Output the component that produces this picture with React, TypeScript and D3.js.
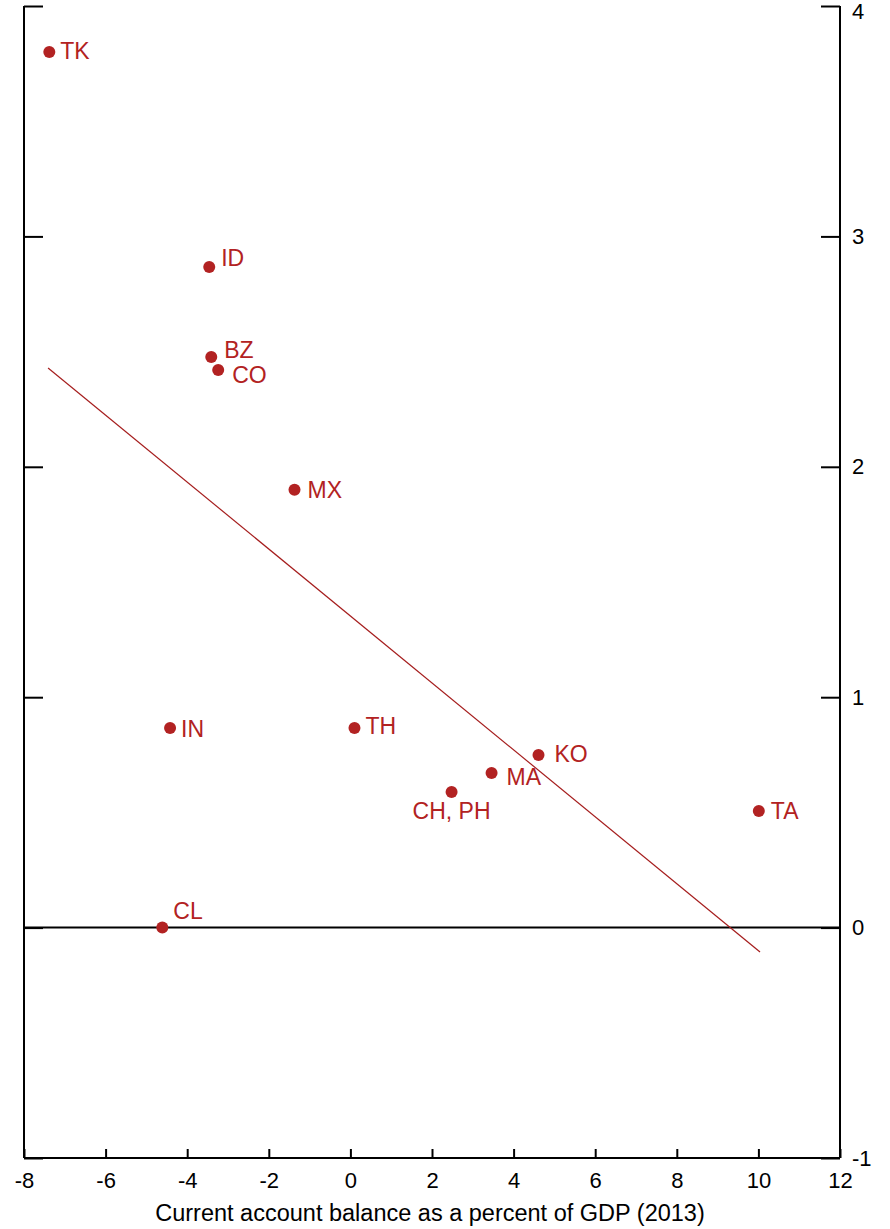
import React, { useEffect, useRef } from "react";
import * as d3 from "d3";

// country codes and values
const countries = ["TK", "ID", "BZ", "CO", "MX", "IN", "TH", "KO", "MA", "CH, PH", "TA", "CL"];
const currentAccount = [-7.38, -3.46, -3.41, -3.24, -1.37, -4.42, 0.1, 4.61, 3.46, 2.48, 10.01, -4.61];
const yValues = [3.8, 2.867, 2.477, 2.42, 1.9, 0.866, 0.866, 0.749, 0.671, 0.589, 0.506, 0.0];
// label placement: [dx, dy, anchor]
const labelPos: [number, number, string][] = [
  [11, 7, "start"],
  [12, -1, "start"],
  [13, 1, "start"],
  [14, 13, "start"],
  [13, 8, "start"],
  [11, 9, "start"],
  [11, 6, "start"],
  [16, 7, "start"],
  [15, 12, "start"],
  [0, 27, "middle"],
  [12, 8, "start"],
  [11, -9, "start"],
];
const fitX = [-7.41, 10.04];
const fitY = [2.429, -0.106];
const xTicks = [-8, -6, -4, -2, 0, 2, 4, 6, 8, 10, 12];
const yTicks = [-1, 0, 1, 2, 3, 4];
const xTitle = "Current account balance as a percent of GDP (2013)";

const RED = "#b22222";

export default function App() {
  const svgRef = useRef<SVGSVGElement>(null);

  useEffect(() => {
    const svg = d3.select(svgRef.current);
    svg.selectAll("*").remove();

    const left = 24, right = 840, top = 6, bottom = 1158;
    const x = d3.scaleLinear().domain([-8, 12]).range([left, right]);
    const y = d3.scaleLinear().domain([-1, 4]).range([bottom, top]);
    const font = "'Liberation Sans', Arial, sans-serif";
    const fmt = (d: d3.NumberValue) => String(d);

    // zero line
    svg.append("line")
      .attr("x1", left).attr("x2", right)
      .attr("y1", y(0)).attr("y2", y(0))
      .attr("stroke", "#000").attr("stroke-width", 2);

    // left axis (no labels, inward ticks)
    const yLeft = d3.axisRight(y).tickValues(yTicks).tickSize(19).tickFormat(() => "");
    svg.append("g").attr("transform", `translate(${left},0)`).call(yLeft)
      .call((g) => g.selectAll("path,line").attr("stroke", "#000").attr("stroke-width", 2))
      .call((g) => g.select(".domain").attr("d", `M0,${top}V${bottom}`));

    // right axis (inward ticks, labels outside)
    const yRight = d3.axisLeft(y).tickValues(yTicks).tickSize(19).tickFormat(fmt);
    const gr = svg.append("g").attr("transform", `translate(${right},0)`).call(yRight);
    gr.select(".domain").attr("d", `M0,${top}V${bottom}`);
    gr.selectAll("path,line").attr("stroke", "#000").attr("stroke-width", 2);
    gr.selectAll("text")
      .attr("x", 12).attr("text-anchor", "start")
      .attr("dy", (d) => (d === 4 ? "0.55em" : "0.32em"))
      .attr("font-family", font).attr("font-size", 22).attr("fill", "#000");

    // bottom axis
    const xAxis = d3.axisTop(x).tickValues(xTicks).tickSize(9).tickFormat(fmt);
    const gx = svg.append("g").attr("transform", `translate(0,${bottom})`).call(xAxis);
    gx.select(".domain").attr("d", `M${left},0H${right}`);
    gx.selectAll("path,line").attr("stroke", "#000").attr("stroke-width", 2);
    gx.selectAll("text")
      .attr("y", 30).attr("dy", 0)
      .attr("font-family", font).attr("font-size", 22).attr("fill", "#000");

    svg.append("text")
      .attr("x", 430).attr("y", 1221)
      .attr("text-anchor", "middle")
      .attr("font-family", font).attr("font-size", 23.5)
      .text(xTitle);

    // fitted line
    svg.append("line")
      .attr("x1", x(fitX[0])).attr("y1", y(fitY[0]))
      .attr("x2", x(fitX[1])).attr("y2", y(fitY[1]))
      .attr("stroke", "#a51d1d").attr("stroke-width", 1.2);

    // points
    const data = countries.map((c, i) => ({ c, x: currentAccount[i], y: yValues[i], p: labelPos[i] }));
    svg.selectAll(".pt").data(data).join("circle")
      .attr("class", "pt")
      .attr("cx", (d) => x(d.x)).attr("cy", (d) => y(d.y))
      .attr("r", 6).attr("fill", RED);

    svg.selectAll(".lbl").data(data).join("text")
      .attr("class", "lbl")
      .attr("x", (d) => x(d.x) + d.p[0]).attr("y", (d) => y(d.y) + d.p[1])
      .attr("text-anchor", (d) => d.p[2])
      .attr("font-family", font).attr("font-size", 23).attr("fill", RED)
      .text((d) => d.c);
  }, []);

  return (
    <svg
      ref={svgRef}
      width={890}
      height={1229}
      style={{ position: "absolute", left: 0, top: 0, background: "#fff" }}
    />
  );
}
